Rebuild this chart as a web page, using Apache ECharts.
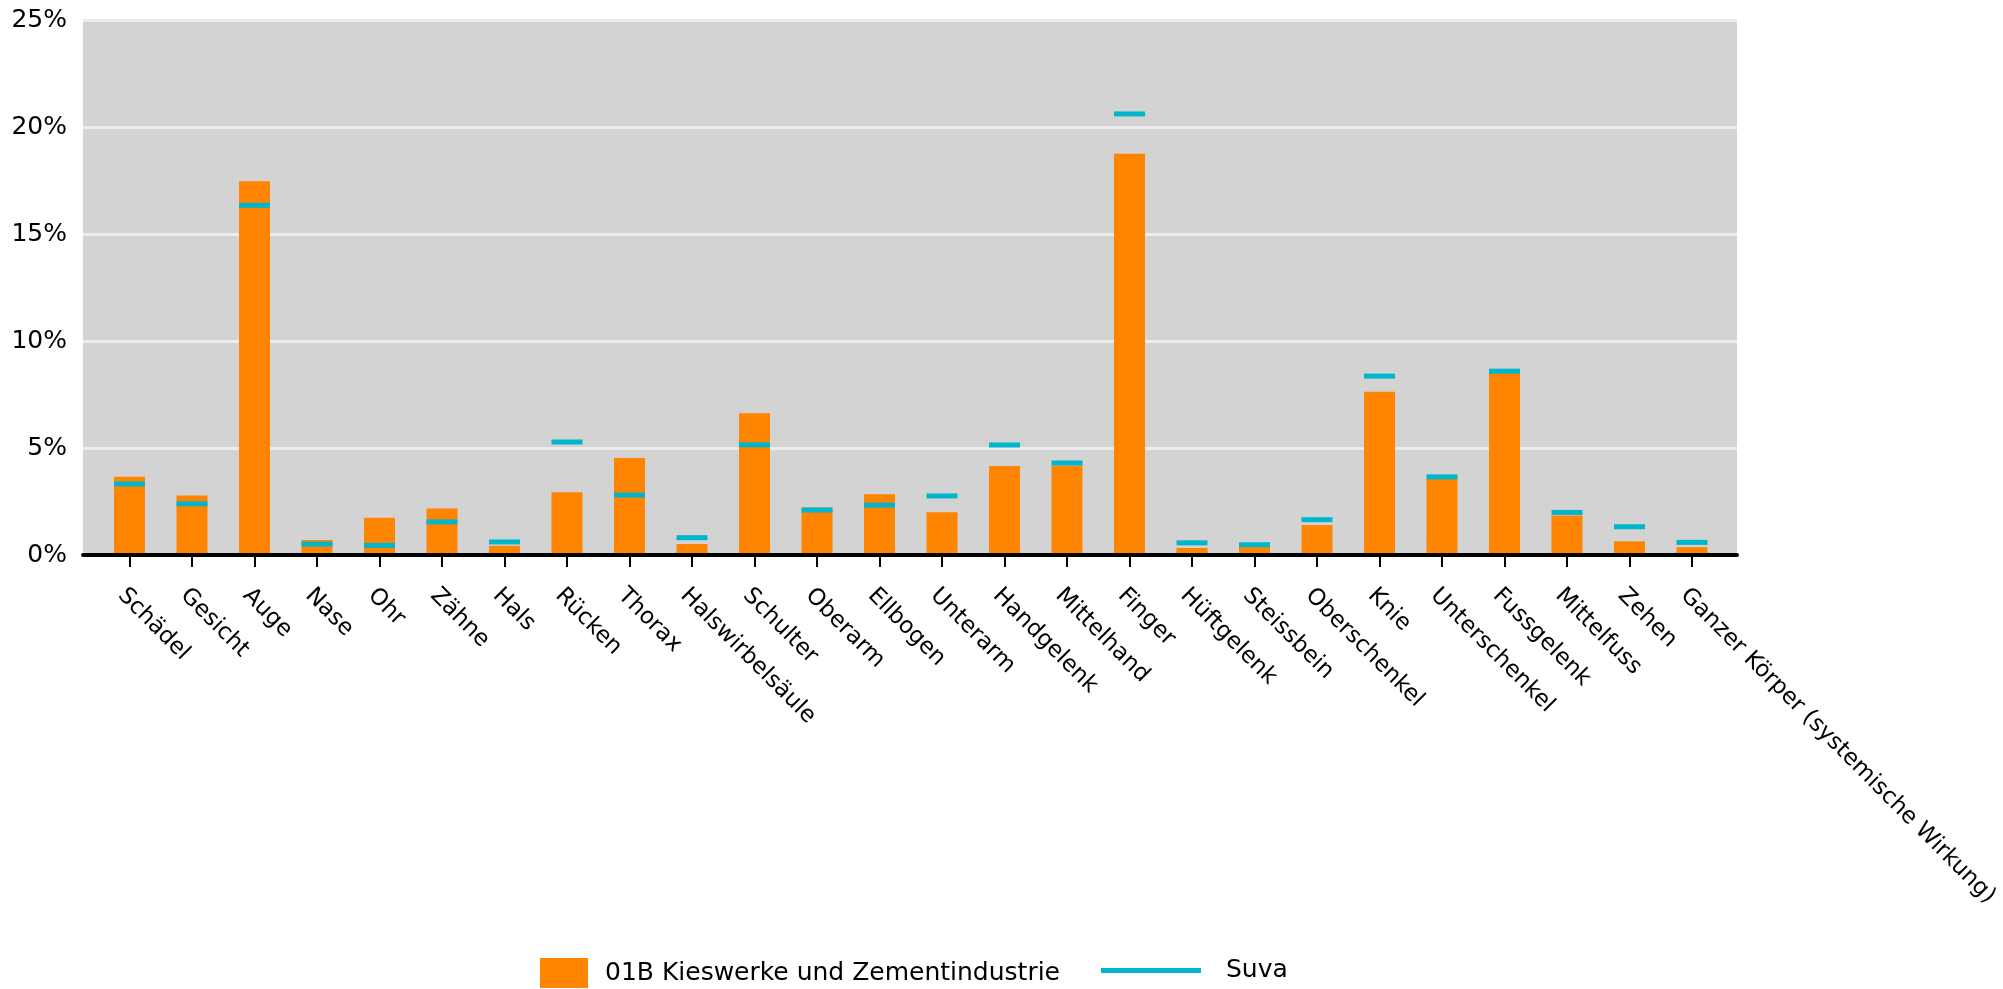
<!DOCTYPE html>
<html>
<head>
<meta charset="utf-8">
<script src="https://cdn.jsdelivr.net/npm/echarts@6/dist/echarts.min.js"></script>
<style>
html,body{margin:0;padding:0;background:#fff;}
#chart{width:2003px;height:989px;}
</style>
</head>
<body>
<div id="chart"></div>
<script>
const categories = ['Schädel','Gesicht','Auge','Nase','Ohr','Zähne','Hals','Rücken','Thorax','Halswirbelsäule','Schulter','Oberarm','Ellbogen','Unterarm','Handgelenk','Mittelhand','Finger','Hüftgelenk','Steissbein','Oberschenkel','Knie','Unterschenkel','Fussgelenk','Mittelfuss','Zehen','Ganzer Körper (systemische Wirkung)'];
const industryName = '01B Kieswerke und Zementindustrie';
const industryValues = [3.66,2.78,17.47,0.70,1.74,2.17,0.43,2.93,4.53,0.51,6.62,2.22,2.84,2.00,4.16,4.18,18.75,0.33,0.39,1.40,7.63,3.56,8.50,1.85,0.64,0.37];
const suvaName = 'Suva';
const suvaValues = [3.32,2.39,16.34,0.51,0.45,1.55,0.61,5.28,2.80,0.81,5.15,2.10,2.33,2.76,5.14,4.30,20.61,0.57,0.48,1.65,8.36,3.65,8.59,1.99,1.32,0.59];
const yTicks = {min:0, max:25, interval:5};

const FONT = 'DejaVu Sans';
const chart = echarts.init(document.getElementById('chart'), null, {renderer:'canvas'});
chart.setOption({
  animation:false,
  textStyle:{fontFamily:FONT},
  grid:[
    {left:83, right:266, top:20, bottom:434, show:true, backgroundColor:'#d3d3d3', borderWidth:0},
    {left:98.25, right:279.75, top:20, bottom:434}
  ],
  xAxis:[
    {gridIndex:0, type:'value', min:0, max:1, z:10,
     axisLine:{show:true, lineStyle:{color:'#000', width:4}},
     axisTick:{show:false}, axisLabel:{show:false}, splitLine:{show:false}},
    {gridIndex:1, type:'category', data:categories,
     axisLine:{show:false},
     axisTick:{show:true, alignWithLabel:true, length:12, lineStyle:{color:'#000', width:2}},
     axisLabel:{interval:0, rotate:-45, fontSize:23, color:'#000', fontFamily:FONT,
                margin:29, verticalAlign:'top'}}
  ],
  yAxis:[
    {gridIndex:0, type:'value', min:yTicks.min, max:yTicks.max, interval:yTicks.interval,
     axisLine:{show:false}, axisTick:{show:false},
     axisLabel:{formatter:'{value}%', fontSize:25, color:'#000', fontFamily:FONT, margin:16},
     splitLine:{show:true, lineStyle:{color:'#ececec', width:3}}},
    {gridIndex:1, type:'value', min:yTicks.min, max:yTicks.max, interval:yTicks.interval, show:false}
  ],
  legend:[
    {data:[industryName], left:540, top:958, itemWidth:48, itemHeight:30, padding:0,
     icon:'rect',
     textStyle:{fontSize:25, color:'#000', fontFamily:FONT, padding:[0,0,0,12]}},
    {data:[suvaName], left:1101, top:958, itemWidth:100, itemHeight:5, padding:0,
     icon:'rect',
     textStyle:{fontSize:25, color:'#000', fontFamily:FONT, padding:[0,0,0,20]}}
  ],
  series:[
    {name:industryName, type:'bar', xAxisIndex:1, yAxisIndex:1, data:industryValues,
     barWidth:31, itemStyle:{color:'#ff8400'}, z:3},
    {name:suvaName, type:'scatter', xAxisIndex:1, yAxisIndex:1, data:suvaValues,
     symbol:'rect', symbolSize:[31,5], itemStyle:{color:'#00b6cc', opacity:1}, z:5}
  ]
});
</script>
</body>
</html>
